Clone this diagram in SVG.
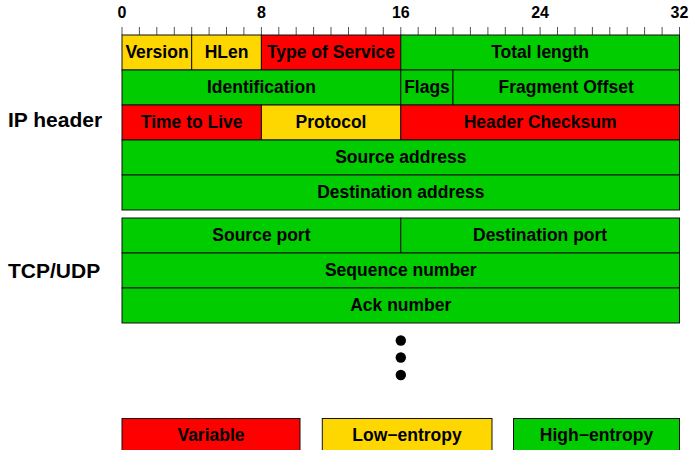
<svg xmlns="http://www.w3.org/2000/svg" width="690" height="450" viewBox="0 0 690 450">
<style>
text{font-family:"Liberation Sans",Arial,sans-serif;font-weight:bold;fill:#000}
.f{font-size:17.5px;text-anchor:middle}
.ax{font-size:16px;text-anchor:middle}
.lab{font-size:21px}
.r{fill:#FF0000;stroke:#111;stroke-width:1}
.y{fill:#FFD700;stroke:#111;stroke-width:1}
.g{fill:#00CC00;stroke:#111;stroke-width:1}
.t{stroke:#555;stroke-width:1}
</style>
<rect width="690" height="450" fill="#fff"/>
<g id="axis">
<text class="ax" x="122" y="18">0</text>
<text class="ax" x="261.4" y="18">8</text>
<text class="ax" x="400.8" y="18">16</text>
<text class="ax" x="540.1" y="18">24</text>
<text class="ax" x="679.5" y="18">32</text>
<g class="t">
<line x1="122" y1="27" x2="122" y2="35"/><line x1="139.4" y1="27" x2="139.4" y2="35"/><line x1="156.8" y1="27" x2="156.8" y2="35"/><line x1="174.3" y1="27" x2="174.3" y2="35"/><line x1="191.7" y1="27" x2="191.7" y2="35"/><line x1="209.1" y1="27" x2="209.1" y2="35"/><line x1="226.5" y1="27" x2="226.5" y2="35"/><line x1="243.9" y1="27" x2="243.9" y2="35"/><line x1="261.4" y1="27" x2="261.4" y2="35"/><line x1="278.8" y1="27" x2="278.8" y2="35"/><line x1="296.2" y1="27" x2="296.2" y2="35"/><line x1="313.6" y1="27" x2="313.6" y2="35"/><line x1="331" y1="27" x2="331" y2="35"/><line x1="348.5" y1="27" x2="348.5" y2="35"/><line x1="365.9" y1="27" x2="365.9" y2="35"/><line x1="383.3" y1="27" x2="383.3" y2="35"/><line x1="400.8" y1="27" x2="400.8" y2="35"/><line x1="418.2" y1="27" x2="418.2" y2="35"/><line x1="435.6" y1="27" x2="435.6" y2="35"/><line x1="453" y1="27" x2="453" y2="35"/><line x1="470.4" y1="27" x2="470.4" y2="35"/><line x1="487.9" y1="27" x2="487.9" y2="35"/><line x1="505.3" y1="27" x2="505.3" y2="35"/><line x1="522.7" y1="27" x2="522.7" y2="35"/><line x1="540.1" y1="27" x2="540.1" y2="35"/><line x1="557.5" y1="27" x2="557.5" y2="35"/><line x1="575" y1="27" x2="575" y2="35"/><line x1="592.4" y1="27" x2="592.4" y2="35"/><line x1="609.8" y1="27" x2="609.8" y2="35"/><line x1="627.2" y1="27" x2="627.2" y2="35"/><line x1="644.6" y1="27" x2="644.6" y2="35"/><line x1="662.1" y1="27" x2="662.1" y2="35"/><line x1="679.5" y1="27" x2="679.5" y2="35"/>
</g>
</g>
<g id="labels">
<text class="lab" x="8" y="127">IP header</text>
<text class="lab" x="8" y="277.5">TCP/UDP</text>
</g>
<g id="ip-header">
<g id="version"><rect class="y" x="122" y="35" width="69.7" height="35"/><text class="f" x="157" y="58">Version</text></g>
<g id="hlen"><rect class="y" x="191.7" y="35" width="69.7" height="35"/><text class="f" x="226.5" y="58">HLen</text></g>
<g id="tos"><rect class="r" x="261.4" y="35" width="139.4" height="35"/><text class="f" x="331" y="58">Type of Service</text></g>
<g id="total-length"><rect class="g" x="400.8" y="35" width="278.7" height="35"/><text class="f" x="540.1" y="58">Total length</text></g>
<g id="identification"><rect class="g" x="122" y="70" width="278.8" height="35"/><text class="f" x="261.4" y="93">Identification</text></g>
<g id="flags"><rect class="g" x="400.8" y="70" width="52.2" height="35"/><text class="f" x="427" y="93">Flags</text></g>
<g id="fragment-offset"><rect class="g" x="453" y="70" width="226.5" height="35"/><text class="f" x="566.2" y="93">Fragment Offset</text></g>
<g id="ttl"><rect class="r" x="122" y="105" width="139.4" height="35"/><text class="f" x="191.7" y="128">Time to Live</text></g>
<g id="protocol"><rect class="y" x="261.4" y="105" width="139.4" height="35"/><text class="f" x="331" y="128">Protocol</text></g>
<g id="checksum"><rect class="r" x="400.8" y="105" width="278.7" height="35"/><text class="f" x="540.1" y="128">Header Checksum</text></g>
<g id="src-addr"><rect class="g" x="122" y="140" width="557.5" height="35"/><text class="f" x="400.8" y="163">Source address</text></g>
<g id="dst-addr"><rect class="g" x="122" y="175" width="557.5" height="35"/><text class="f" x="400.8" y="198">Destination address</text></g>
</g>
<g id="tcp-udp">
<g id="src-port"><rect class="g" x="122" y="218" width="278.8" height="35"/><text class="f" x="261.4" y="241">Source port</text></g>
<g id="dst-port"><rect class="g" x="400.8" y="218" width="278.7" height="35"/><text class="f" x="540.1" y="241">Destination port</text></g>
<g id="seq"><rect class="g" x="122" y="253" width="557.5" height="35"/><text class="f" x="400.8" y="276">Sequence number</text></g>
<g id="ack"><rect class="g" x="122" y="288" width="557.5" height="35"/><text class="f" x="400.8" y="311">Ack number</text></g>
</g>
<g id="ellipsis" fill="#000">
<circle cx="400.8" cy="340.5" r="5.2"/>
<circle cx="400.8" cy="357.5" r="5.2"/>
<circle cx="400.8" cy="375" r="5.2"/>
</g>
<g id="legend">
<g id="leg-variable"><rect class="r" x="122" y="418.5" width="178" height="40"/><text class="f" x="211" y="441">Variable</text></g>
<g id="leg-low"><rect class="y" x="322.3" y="418.5" width="169.7" height="40"/><text class="f" x="407" y="441">Low−entropy</text></g>
<g id="leg-high"><rect class="g" x="513.5" y="418.5" width="166" height="40"/><text class="f" x="596.5" y="441">High−entropy</text></g>
</g>
<g id="connectors"></g>
</svg>
